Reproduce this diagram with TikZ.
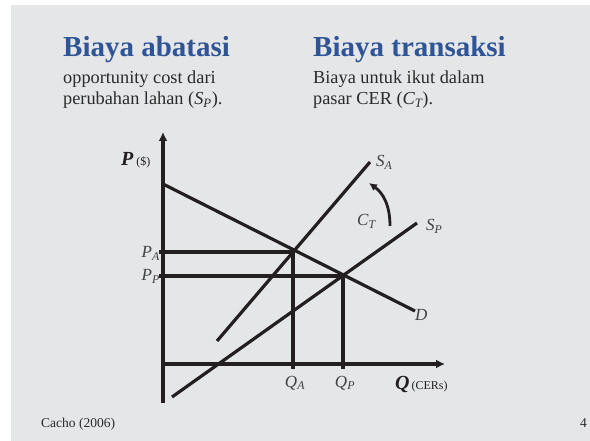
\documentclass[tikz,border=0pt]{standalone}
\usepackage{fontspec}
\setmainfont{Liberation Serif}
\usetikzlibrary{arrows.meta}
\definecolor{bg}{HTML}{E5E6E8}
\definecolor{ink}{HTML}{231F20}
\definecolor{ttl}{HTML}{2F5597}
\definecolor{txt}{HTML}{2A2A2A}
\definecolor{lbl}{HTML}{404040}
\tikzset{
  ln/.style={line width=3.2pt, color=ink},
  axis/.style={ln, -{Latex[length=9pt,width=9pt]}},
  title/.style={anchor=base west, inner sep=0pt, text=ttl, font=\fontsize{29}{30}\selectfont\bfseries},
  body/.style={anchor=base west, inner sep=0pt, text=txt, font=\fontsize{18.3}{20}\selectfont},
  lab/.style={inner sep=0pt, text=lbl, font=\fontsize{17}{18}\selectfont\itshape},
  foot/.style={inner sep=0pt, text=txt, font=\fontsize{13.5}{15}\selectfont},
}
\begin{document}
\begin{tikzpicture}[x=1pt,y=-1pt]
\useasboundingbox (0,0) rectangle (590,441);
\fill[white] (0,0) rectangle (590,441);
\fill[bg] (11,5) rectangle (590,441);

% headings
\node[title] (t1) at (63,57) {Biaya abatasi};
\node[body] (b1a) at (63,84) {opportunity cost dari};
\node[body] (b1b) at (63,105) {perubahan lahan (\textit{S\textsubscript{P}}).};
\node[title] (t2) at (313,57) {Biaya transaksi};
\node[body] (b2a) at (313,84) {Biaya untuk ikut dalam};
\node[body] (b2b) at (313,105) {pasar CER (\textit{C\textsubscript{T}}).};

% coordinates
\coordinate (ybot) at (163,403);
\coordinate (ytop) at (163,132);
\coordinate (O) at (163,364);
\coordinate (xend) at (445,364);
\coordinate (D0) at (163,184);
\coordinate (D1) at (415,311);
\coordinate (EA) at (293,252);
\coordinate (EP) at (343,276);
\coordinate (PAl) at (159,252);
\coordinate (PPl) at (159,276);
\coordinate (QAb) at (293,369);
\coordinate (QPb) at (343,369);
\coordinate (SA0) at (217,341);
\coordinate (SA1) at (370,162);
\coordinate (SP0) at (172,397);
\coordinate (SP1) at (417,223);
\coordinate (c0) at (390,226);
\coordinate (c1) at (369,183);

% axes
\draw[axis] (ybot) -- (ytop);
\draw[axis] (O) -- (xend);

% curves
\draw[ln] (D0) -- (D1);
\draw[ln] (SA0) -- (SA1);
\draw[ln] (SP0) -- (SP1);

% equilibrium guides
\draw[ln] (PAl) -- (EA) -- (QAb);
\draw[ln] (PPl) -- (EP) -- (QPb);

% C_T arrow
\draw[ln, line width=2.8pt, -{Latex[length=8pt,width=8pt]}] (c0) .. controls (390,205) and (383,193) .. (c1);

% labels
\node[inner sep=0pt, anchor=base west, text=ink] (Plab) at (121,166) {\fontsize{20}{21}\selectfont\bfseries\itshape P\fontsize{12}{13}\selectfont\mdseries\upshape\ (\$)};
\node[inner sep=0pt, anchor=base west, text=ink] (Qlab) at (395,389) {\fontsize{20}{21}\selectfont\bfseries\itshape Q\fontsize{12}{13}\selectfont\mdseries\upshape\,(CERs)};
\node[lab, anchor=base east] (PA) at (160,258) {P\textsubscript{A}};
\node[lab, anchor=base east] (PP) at (160,281) {P\textsubscript{P}};
\node[lab, anchor=base] (QA) at (295,387) {Q\textsubscript{A}};
\node[lab, anchor=base] (QP) at (345,387) {Q\textsubscript{P}};
\node[lab, anchor=base west] (SAl) at (376,167) {S\textsubscript{A}};
\node[lab, anchor=base west] (SPl) at (426,231) {S\textsubscript{P}};
\node[lab, anchor=base west] (CTl) at (357,226) {C\textsubscript{T}};
\node[lab, anchor=base west] (Dl) at (415,320) {D};

% footer
\node[foot, anchor=base west] (cite) at (41,427) {Cacho (2006)};
\node[foot, anchor=base east] (pg) at (587,427) {4};
\end{tikzpicture}
\end{document}
